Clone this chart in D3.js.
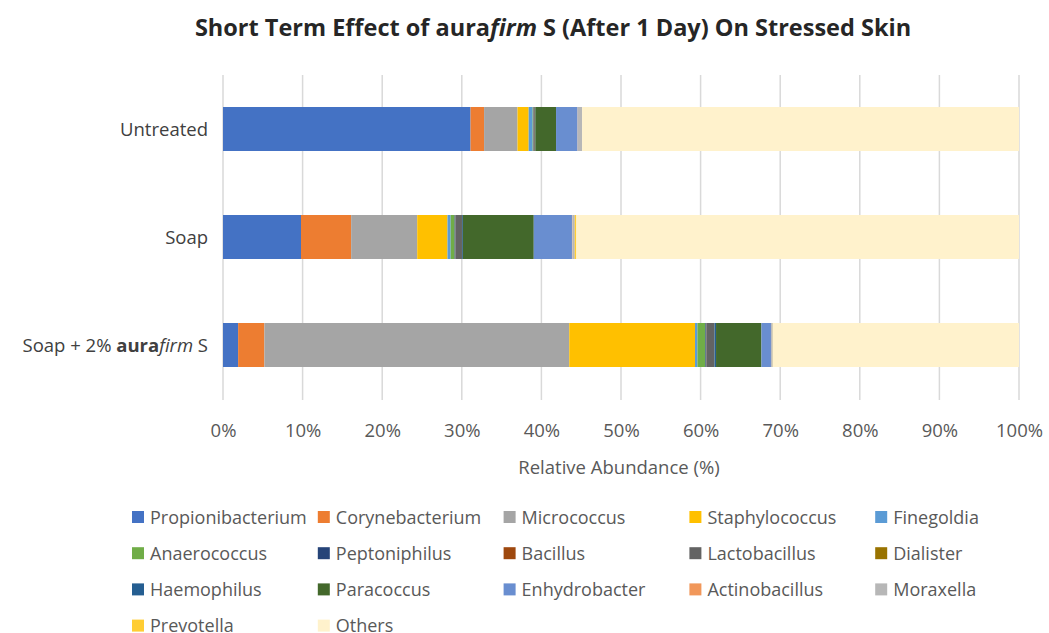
<!DOCTYPE html>
<html>
<head>
<meta charset="utf-8">
<script src="https://cdn.jsdelivr.net/npm/d3@7"></script>
<style>
  body { margin: 0; background: #fff; }
  svg { font-family: "Open Sans", sans-serif; }
</style>
</head>
<body>
<div id="chart"></div>
<script>
const width = 1049;
const height = 633;

// Categories, top to bottom
const categories = ['Untreated', 'Soap', 'Soap + 2% aurafirm S'];

// Genus names, in stacking / legend order
const genera = ['Propionibacterium', 'Corynebacterium', 'Micrococcus', 'Staphylococcus', 'Finegoldia',
  'Anaerococcus', 'Peptoniphilus', 'Bacillus', 'Lactobacillus', 'Dialister',
  'Haemophilus', 'Paracoccus', 'Enhydrobacter', 'Actinobacillus', 'Moraxella',
  'Prevotella', 'Others'];

// Relative abundance (%) per genus: [Untreated, Soap, Soap + 2% aurafirm S]
const propionibacterium = [31.1, 9.8, 1.9];
const corynebacterium = [1.7, 6.3, 3.3];
const micrococcus = [4.2, 8.3, 38.3];
const staphylococcus = [1.4, 3.8, 15.8];
const finegoldia = [0.5, 0.4, 0.3];
const anaerococcus = [0.05, 0.5, 1.0];
const peptoniphilus = [0.05, 0.1, 0.1];
const bacillus = [0.02, 0.02, 0.02];
const lactobacillus = [0.15, 0.8, 1.0];
const dialister = [0.02, 0.02, 0.02];
const haemophilus = [0.05, 0.1, 0.2];
const paracoccus = [2.6, 8.9, 5.7];
const enhydrobacter = [2.7, 4.8, 1.2];
const actinobacillus = [0.02, 0.05, 0.02];
const moraxella = [0.55, 0.3, 0.2];
const prevotella = [0.02, 0.2, 0.02];
const others = [54.87, 55.61, 30.92];

const seriesValues = [propionibacterium, corynebacterium, micrococcus, staphylococcus, finegoldia,
  anaerococcus, peptoniphilus, bacillus, lactobacillus, dialister,
  haemophilus, paracoccus, enhydrobacter, actinobacillus, moraxella,
  prevotella, others];

const colors = ['#4472C4', '#ED7D31', '#A5A5A5', '#FFC000', '#5B9BD5',
  '#70AD47', '#264478', '#9E480E', '#636363', '#997300',
  '#255E91', '#43682B', '#698ED0', '#F1975A', '#B7B7B7',
  '#FFCD33', '#FFF2CC'];

const xTicks = [0, 10, 20, 30, 40, 50, 60, 70, 80, 90, 100];

// Build rows for d3.stack
const rows = categories.map(function (c, i) {
  const row = { category: c };
  genera.forEach(function (g, j) { row[g] = seriesValues[j][i]; });
  return row;
});

const stacked = d3.stack().keys(genera)(rows);

const svg = d3.select('#chart')
  .append('svg')
  .attr('width', width)
  .attr('height', height);

const x = d3.scaleLinear().domain([0, 100]).range([223, 1019]);
const y = d3.scaleBand().domain(categories).range([75, 399])
  .paddingInner(0.5926).paddingOuter(0.2963);
const color = d3.scaleOrdinal().domain(genera).range(colors);

// Title
const title = svg.append('text')
  .attr('x', 553)
  .attr('y', 36)
  .attr('text-anchor', 'middle')
  .attr('font-size', 23.5)
  .attr('font-weight', 'bold')
  .attr('fill', '#262626');
title.append('tspan').text('Short Term Effect of aura');
title.append('tspan').attr('font-style', 'italic').text('firm');
title.append('tspan').text(' S (After 1 Day) On Stressed Skin');

// Gridlines
svg.append('g')
  .selectAll('line')
  .data(xTicks)
  .enter()
  .append('line')
  .attr('x1', d => x(d))
  .attr('x2', d => x(d))
  .attr('y1', 75)
  .attr('y2', 400)
  .attr('stroke', '#d9d9d9')
  .attr('stroke-width', 1.5);

// Bars
svg.append('g')
  .selectAll('g')
  .data(stacked)
  .enter()
  .append('g')
  .attr('fill', d => color(d.key))
  .selectAll('rect')
  .data(d => d)
  .enter()
  .append('rect')
  .attr('x', d => x(d[0]))
  .attr('y', d => y(d.data.category))
  .attr('width', d => Math.max(0, x(d[1]) - x(d[0])))
  .attr('height', y.bandwidth());

// X axis tick labels
const xAxis = d3.axisBottom(x)
  .tickValues(xTicks)
  .tickFormat(d => d + '%')
  .tickSize(0)
  .tickPadding(0);

const xg = svg.append('g')
  .attr('transform', 'translate(0,424)')
  .call(xAxis);
xg.select('.domain').remove();
xg.selectAll('text')
  .attr('font-family', '"Open Sans", sans-serif')
  .attr('font-size', 18.5)
  .attr('fill', '#595959');

// Axis title
svg.append('text')
  .attr('x', 619)
  .attr('y', 474)
  .attr('text-anchor', 'middle')
  .attr('font-size', 18.5)
  .attr('fill', '#595959')
  .text('Relative Abundance (%)');

// Category labels
const catLabels = svg.append('g')
  .selectAll('text')
  .data(categories)
  .enter()
  .append('text')
  .attr('x', 208)
  .attr('y', d => y(d) + y.bandwidth() / 2 + 7)
  .attr('text-anchor', 'end')
  .attr('font-size', 18.5)
  .attr('fill', '#404040');

catLabels.each(function (d) {
  const t = d3.select(this);
  if (d.indexOf('aurafirm') >= 0) {
    t.append('tspan').text('Soap + 2% ');
    t.append('tspan').attr('font-weight', 'bold').text('aura');
    t.append('tspan').attr('font-style', 'italic').text('firm');
    t.append('tspan').text(' S');
  } else {
    t.text(d);
  }
});

// Legend
const legend = svg.append('g')
  .selectAll('g')
  .data(genera)
  .enter()
  .append('g')
  .attr('transform', (d, i) => 'translate(' + (132 + (i % 5) * 185.8) + ',' + (511 + Math.floor(i / 5) * 36.2) + ')');

legend.append('rect')
  .attr('width', 12)
  .attr('height', 12)
  .attr('fill', d => color(d));

legend.append('text')
  .attr('x', 18)
  .attr('y', 12.5)
  .attr('font-size', 18)
  .attr('fill', '#595959')
  .text(d => d);
</script>
</body>
</html>
